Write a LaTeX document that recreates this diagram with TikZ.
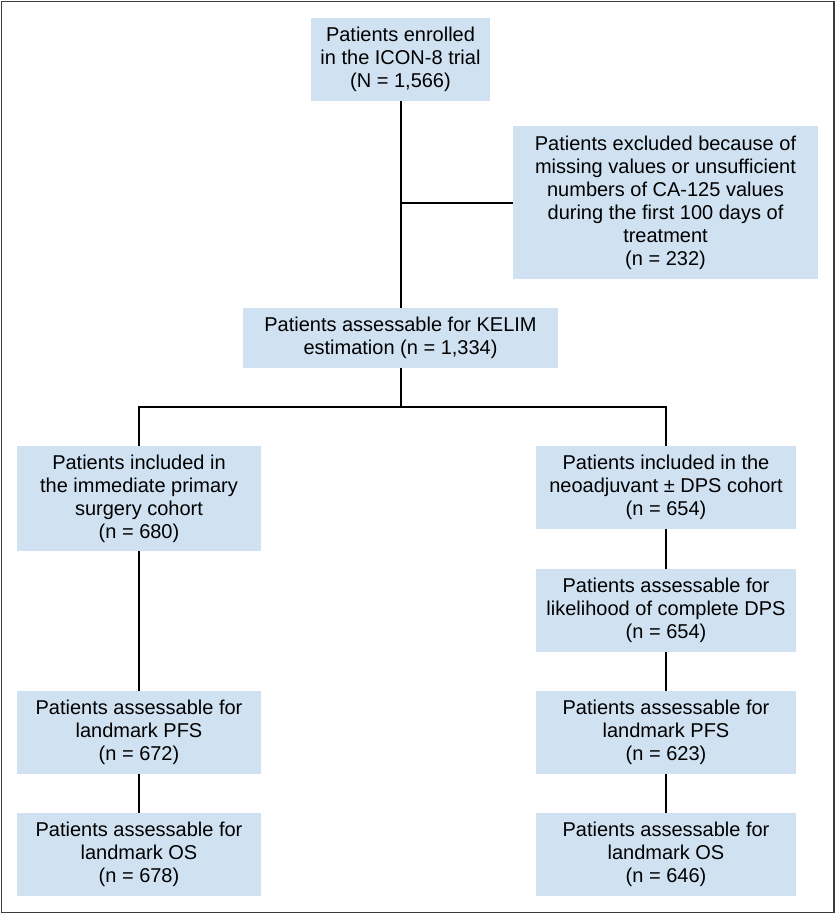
\documentclass[tikz,border=0pt]{standalone}
\usepackage{fontspec}
\setmainfont{Liberation Sans}
\usepackage{tikz}
\usetikzlibrary{calc}
\usepackage{color}
\definecolor{boxblue}{RGB}{208,226,242}
\definecolor{framegray}{RGB}{60,60,60}

\begin{document}
\begin{tikzpicture}[x=1pt,y=-1pt,
  box/.style={fill=boxblue,inner sep=0pt,align=center,font=\fontsize{20}{23}\selectfont},
  narrow/.style={box,minimum width=244pt,minimum height=83pt},
  wide/.style={box,minimum width=260pt,minimum height=83pt},
  link/.style={line width=2pt}]

\useasboundingbox (0,0) rectangle (836,914);
\draw[framegray,line width=1.5pt] (1.5,1.5) rectangle (834,912.5);

%Placing boxes
\node[box,minimum width=179pt,minimum height=83pt] (enrol) at (400.5,59) {Patients enrolled\\in the ICON-8 trial\\(N = 1,566)};
\node[box,minimum width=305pt,minimum height=153pt] (excl) at (665.5,202.5) {Patients excluded because of\\missing values or unsufficient\\numbers of CA-125 values\\during the first 100 days of\\treatment\\(n = 232)};
\node[box,minimum width=315pt,minimum height=60pt] (kelim) at (400.5,338) {Patients assessable for KELIM\\estimation (n = 1,334)};
\node[narrow,minimum height=105pt] (primary) at (139,498.5) {Patients included in\\the immediate primary\\surgery cohort\\(n = 680)};
\node[wide] (neo) at (666,487.5) {Patients included in the\\neoadjuvant ± DPS cohort\\(n = 654)};
\node[wide] (dps) at (666,610.5) {Patients assessable for\\likelihood of complete DPS\\(n = 654)};
\node[narrow] (pfsL) at (139,732.5) {Patients assessable for\\landmark PFS\\(n = 672)};
\node[wide] (pfsR) at (666,732.5) {Patients assessable for\\landmark PFS\\(n = 623)};
\node[narrow] (osL) at (139,854.5) {Patients assessable for\\landmark OS\\(n = 678)};
\node[wide] (osR) at (666,854.5) {Patients assessable for\\landmark OS\\(n = 646)};

%Marking junctions
\coordinate (exj) at (enrol.south |- excl.west);
\coordinate (split) at (400.5,407);

%Drawing connectors
\draw[link] (enrol.south) -- (kelim.north);
\draw[link] (exj) -- (excl.west);
\draw[link] (kelim.south) -- (split);
\draw[link] (primary.north) |- (split) -| (neo.north);
\draw[link] (primary.south) -- (pfsL.north);
\draw[link] (pfsL.south) -- (osL.north);
\draw[link] (neo.south) -- (dps.north);
\draw[link] (dps.south) -- (pfsR.north);
\draw[link] (pfsR.south) -- (osR.north);
\end{tikzpicture}
\end{document}
